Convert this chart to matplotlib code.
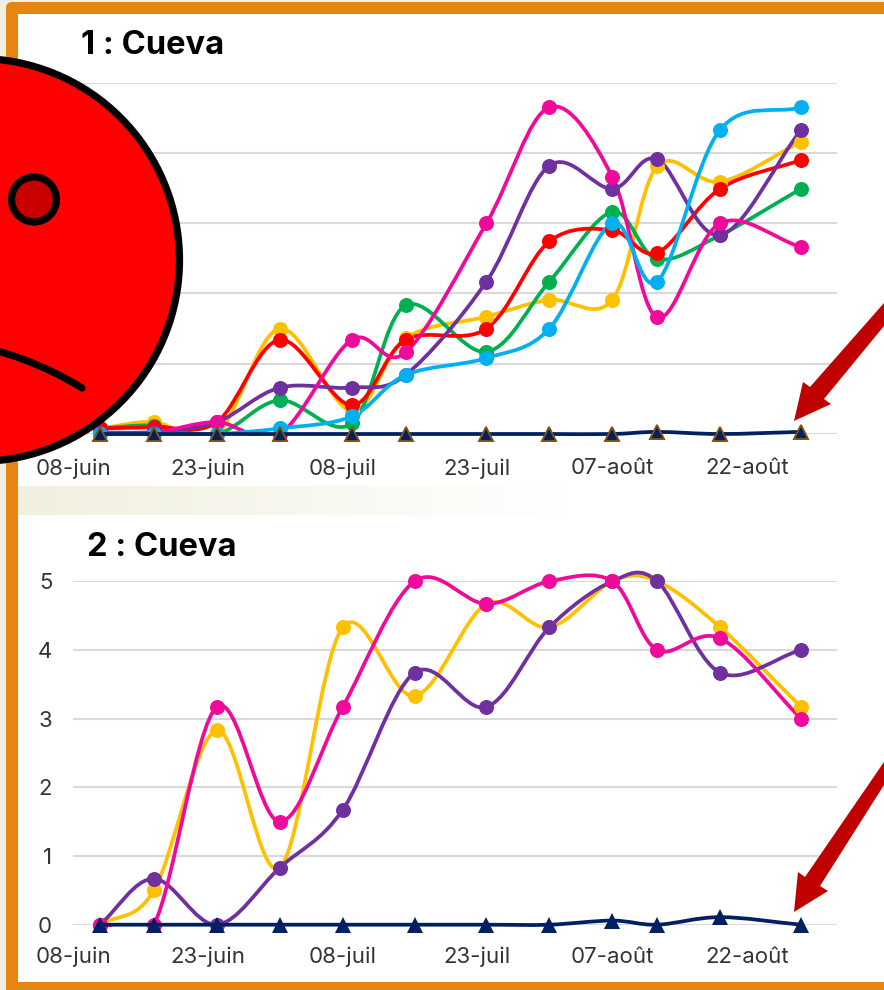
import numpy as np
import pandas as pd
import matplotlib
matplotlib.use("Agg")
import matplotlib.pyplot as plt
import matplotlib.dates as mdates
from matplotlib.path import Path
from matplotlib.patches import PathPatch, Circle, Polygon, FancyBboxPatch, Rectangle

plt.rcParams['font.family'] = ['Inter', 'DejaVu Sans']

# chart 1
dates_top = ["2021-06-11", "2021-06-17", "2021-06-24", "2021-07-01", "2021-07-09", "2021-07-15",
             "2021-07-24", "2021-07-31", "2021-08-07", "2021-08-12", "2021-08-19", "2021-08-28"]
top_yellow = [0.08, 0.17, 0.0, 1.5, 0.33, 1.36, 1.67, 1.91, 1.91, 3.81, 3.59, 4.16]
top_green = [0.08, 0.12, 0.0, 0.48, 0.15, 1.83, 1.17, 2.17, 3.16, 2.49, 2.83, 3.49]
top_red = [0.08, 0.1, 0.17, 1.34, 0.41, 1.34, 1.5, 2.74, 2.9, 2.58, 3.49, 3.9]
top_purple = [0.02, 0.03, 0.17, 0.66, 0.66, 0.84, 2.17, 3.82, 3.49, 3.91, 2.83, 4.33]
top_magenta = [0.02, 0.02, 0.17, 0.0, 1.34, 1.16, 3.0, 4.65, 3.66, 1.66, 3.0, 2.66]
top_cyan = [0.0, 0.0, 0.0, 0.08, 0.25, 0.84, 1.08, 1.5, 3.0, 2.17, 4.33, 4.65]
top_navy = [0, 0, 0, 0, 0, 0, 0, 0, 0, 0.03, 0, 0.03]

# chart 2
dates_bottom = ["2021-06-11", "2021-06-17", "2021-06-24", "2021-07-01", "2021-07-08", "2021-07-16",
                "2021-07-24", "2021-07-31", "2021-08-07", "2021-08-12", "2021-08-19", "2021-08-28"]
bottom_yellow = [0, 0.5, 2.83, 0.83, 4.33, 3.33, 4.67, 4.33, 5, 5, 4.33, 3.17]
bottom_purple = [0, 0.67, 0, 0.83, 1.67, 3.67, 3.17, 4.33, 5, 5, 3.67, 4]
bottom_magenta = [0, 0, 3.17, 1.5, 3.17, 5, 4.67, 5, 5, 4, 4.17, 3]
bottom_navy = [0, 0, 0, 0, 0, 0, 0, 0, 0.06, 0, 0.11, 0]

tick_dates = ["2021-06-08", "2021-06-23", "2021-07-08", "2021-07-23", "2021-08-07", "2021-08-22"]
tick_labels = ["08-juin", "23-juin", "08-juil", "23-juil", "07-août", "22-août"]
y_ticks = [0, 1, 2, 3, 4, 5]

YELLOW = "#ffc000"
GREEN = "#00b050"
RED = "#ff0000"
PURPLE = "#7030a0"
MAGENTA = "#f00a9b"
CYAN = "#00b0f0"
NAVY = "#002060"
W, H = 884, 990


def smooth_path(ax, x, y):
    # spreadsheet style smoothed line, built as bezier segments in pixel space
    pts = ax.transData.transform(np.column_stack([x, y]))
    verts = [pts[0]]
    codes = [Path.MOVETO]
    n = len(pts)
    for i in range(n - 1):
        p0 = pts[max(i - 1, 0)]
        p1 = pts[i]
        p2 = pts[i + 1]
        p3 = pts[min(i + 2, n - 1)]
        c1 = p1 + (p2 - p0) / 6 if i > 0 else p1 + (p2 - p1) / 3
        c2 = p2 - (p3 - p1) / 6 if i < n - 2 else p2 - (p2 - p1) / 3
        verts += [c1, c2, p2]
        codes += [Path.CURVE4] * 3
    return Path(ax.transData.inverted().transform(np.array(verts)), codes)


def draw_series(ax, x, y, color, marker='o', ms=10.8, mec=None, z=3):
    line = PathPatch(smooth_path(ax, x, y), fill=False, edgecolor=color, lw=2.7,
                     capstyle='round', zorder=z)
    ax.add_patch(line)
    # lines stop at the zero line but may go a little over the top gridline
    line.set_clip_path(Rectangle((-0.1, -0.006), 1.2, 1.2, transform=ax.transAxes))
    ax.plot(x, y, ls='none', marker=marker, ms=ms, color=color, mec=mec or color,
            mew=1.4 if mec else 0, zorder=z + 0.5, clip_on=False)


def setup_axes(top_px, bottom_px, xpad):
    ax = fig.add_axes([73 / W, 1 - bottom_px / H, (837 - 73) / W, (bottom_px - top_px) / H])
    ax.patch.set_alpha(0)
    ax.set_xlim(mdates.date2num(pd.Timestamp("2021-06-08")), mdates.date2num(pd.Timestamp("2021-09-01")))
    ax.set_ylim(0, 5)
    ax.set_yticks(y_ticks)
    ax.set_xticks(mdates.date2num(pd.to_datetime(tick_dates)))
    ax.set_xticklabels(tick_labels)
    ax.grid(axis='y', color="#d9d9d9", lw=1.5)
    ax.set_axisbelow(True)
    ax.tick_params(length=0, labelsize=16, labelcolor="#333333")
    ax.tick_params(axis='x', pad=xpad)
    ax.tick_params(axis='y', pad=15)
    for s in ax.spines.values():
        s.set_visible(False)
    return ax


fig = plt.figure(figsize=(W / 100, H / 100), dpi=100, facecolor="#f1efdf")

# page frame and the faded band between the charts
bg = fig.add_axes([0, 0, 1, 1], zorder=0)
bg.set_xlim(0, W)
bg.set_ylim(H, 0)
bg.axis('off')
bg.add_patch(FancyBboxPatch((10, 6), W + 40, H + 40, boxstyle="round,pad=4,rounding_size=6",
                            fc="#e58512", ec='none'))
bg.add_patch(Rectangle((18, 14), W, 968, fc="white", ec='none'))
fade = np.linspace(0, 1, 256)[None, :, None] * np.array([14, 16, 32]) / 255 + np.array([241, 239, 223]) / 255
fade = np.clip(fade, 0, 1)
bg.imshow(fade, extent=(18, 570, 515, 486), aspect='auto', zorder=2)
bg.set_xlim(0, W)
bg.set_ylim(H, 0)

ax1 = setup_axes(82.7, 434, 17.5)
x1 = mdates.date2num(pd.to_datetime(dates_top))
for vals, col in [(top_yellow, YELLOW), (top_green, GREEN), (top_red, RED), (top_purple, PURPLE),
                  (top_magenta, MAGENTA), (top_cyan, CYAN)]:
    draw_series(ax1, x1, vals, col)
draw_series(ax1, x1, top_navy, NAVY, marker='^', ms=9.5, mec="#84500f", z=5)

ax2 = setup_axes(581.3, 924.7, 16)
x2 = mdates.date2num(pd.to_datetime(dates_bottom))
for vals, col in [(bottom_yellow, YELLOW), (bottom_purple, PURPLE), (bottom_magenta, MAGENTA)]:
    draw_series(ax2, x2, vals, col)
draw_series(ax2, x2, bottom_navy, NAVY, marker='^', ms=11, z=5)

fig.text(81 / W, 1 - 46 / H, "1 : Cueva", fontsize=23.5, fontweight='bold', va='center', color="black")
fig.text(87 / W, 1 - 548 / H, "2 : Cueva", fontsize=23.5, fontweight='bold', va='center', color="black")

# sad face and arrows on top of everything
over = fig.add_axes([0, 0, 1, 1], zorder=10)
over.set_xlim(0, W)
over.set_ylim(H, 0)
over.axis('off')
over.add_patch(Circle((-22, 260), 201.5, fc="#ff0000", ec="black", lw=5.2))
over.add_patch(Circle((34, 199.5), 22.5, fc="#c80000", ec="black", lw=5.2))
over.add_patch(PathPatch(Path([(-40, 343), (25, 353), (82, 388)], [Path.MOVETO, Path.CURVE3, Path.CURVE3]),
                         fill=False, ec="black", lw=5.2, capstyle='round'))
over.add_patch(Polygon([(794, 421), (803, 382), (810, 387), (884, 303), (884, 326), (824, 399), (831, 404)],
                       fc="#c00000", ec='none'))
over.add_patch(Polygon([(794, 912), (798, 872), (805, 877), (884, 762), (884, 785), (820, 886), (828, 891)],
                       fc="#c00000", ec='none'))

fig.savefig("out.png", dpi=100, facecolor=fig.get_facecolor())
